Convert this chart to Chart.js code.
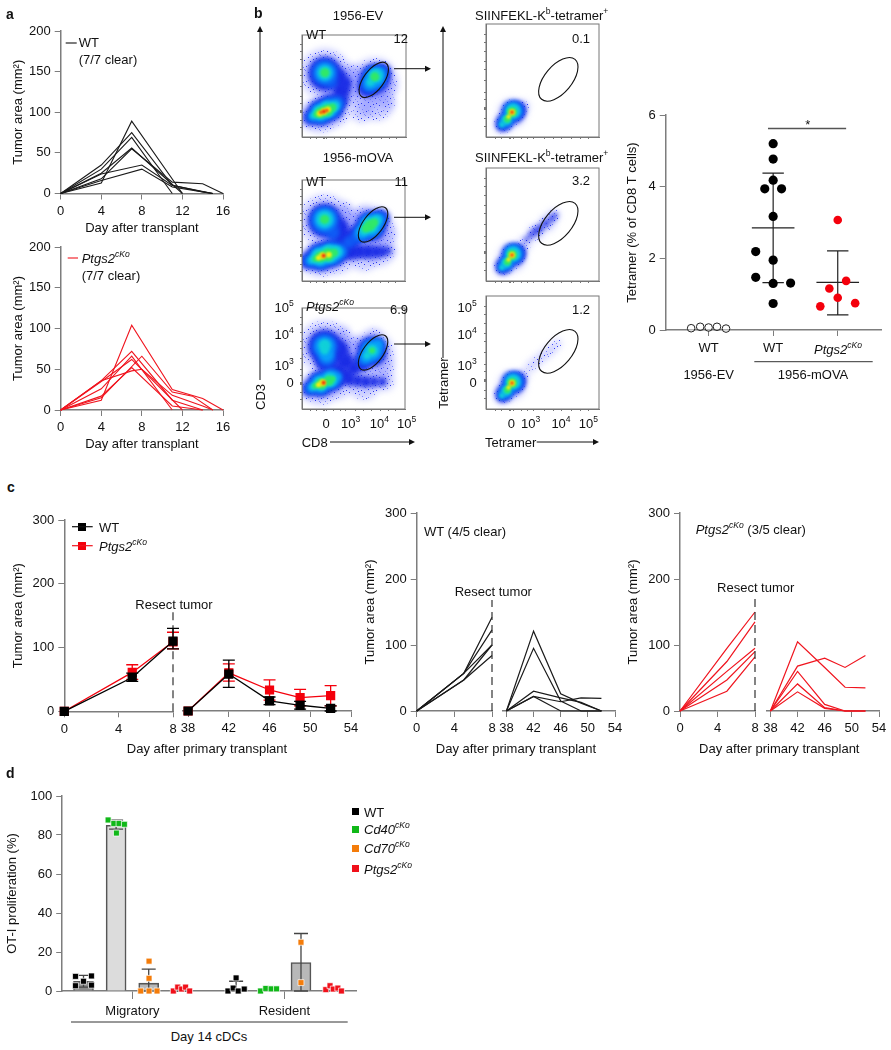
<!DOCTYPE html>
<html>
<head>
<meta charset="utf-8">
<script src="https://cdn.jsdelivr.net/npm/chart.js@4"></script>
<style>
html,body{margin:0;padding:0;background:#fff}
#page{position:relative;width:891px;height:1050px;overflow:hidden;font-family:"Liberation Sans",Arial,sans-serif;color:#111}
canvas{position:absolute}
.t{position:absolute;white-space:nowrap;font-size:13px;line-height:1}
.t sup{font-size:.66em;line-height:0;vertical-align:.6em}
.sq{position:absolute}
svg{position:absolute;left:0;top:0}
</style>
</head>
<body>
<div id="page"></div>
<script>
// panel a, [day, area] per mouse
var aWT = [
  [[0,0],[4,35],[7,75],[11,10],[14,2],[15,0]],
  [[0,0],[4,13],[7,89],[12,0]],
  [[0,0],[4,30],[7,69],[11,0]],
  [[0,0],[4,25],[7,56],[12,0]],
  [[0,0],[4,18],[7,55],[11,14],[14,12],[16,0]],
  [[0,0],[4,24],[8,35],[11,10],[15,0]],
  [[0,0],[4,16],[8,30],[11,8],[14,2],[15,0]]
];
var aKO = [
  [[0,0],[4,12],[7,104],[11,25],[14,14],[16,0]],
  [[0,0],[4,36],[7,72],[11,12],[14,0]],
  [[0,0],[4,26],[7,66],[11,0]],
  [[0,0],[4,15],[8,66],[11,22],[13,17],[15,0]],
  [[0,0],[4,35],[7,62],[12,0]],
  [[0,0],[4,17],[7,52],[11,5],[14,0]],
  [[0,0],[4,36],[7,48],[8,50],[11,18],[14,5],[15,0]]
];

// panel b dot plot
var evDots = [[0.73,0.05],[0.87,0.09],[1,0.07],[1.13,0.09],[1.27,0.04]];
var wtDots = [[2,5.2],[2,4.77],[2,4.18],[1.87,3.94],[2.13,3.94],[2,3.17],[1.73,2.19],[2,1.95],[1.73,1.47],[2,1.3],[2.27,1.31],[2,0.74]];
var koDots = [[3,3.07],[3.13,1.37],[2.87,1.16],[3,0.9],[3.27,0.75],[2.73,0.66]];
var dotMeans = [[2,2.85],[3,1.33]];
var dotErrs = [[2,1.32,4.38],[3,0.42,2.21]];
var dotTicks = [1,2,3];
var dotTickNames = ['WT','WT',''];
var sigBar = [[1.92,5.62],[3.13,5.62]];

// flow plots, blobs are [x%, y%, radius] per density colour, hottest first
var bandColors = ['#f01c10','#f4ee10','#30e868','#10d0d8','#08a0f8','#0f5cf5','#1c2ee6'];
var bandBlur = [1,1,1.2,1.8,2,2.4,2.6];
var flowEV = [
  [[21,25,2],[18,24,1.4],[24,26,1.4]],
  [[21,25,3.5],[17,23,3],[25,27,3]],
  [[14,22,3],[18,24,5.5],[24,26,6],[29,29,4],[22,63,4.5],[70,59,4.5]],
  [[11,21,3],[17,24,7],[24,27,8],[31,30,5],[22,63,7],[71,60,7],[66,54,4]],
  [[10,20,4],[18,24,9],[26,28,9],[33,32,5],[22,63,10],[70,58,10],[65,52,6],[75,63,5]],
  [[9,19,5],[18,24,11],[28,29,11],[35,34,6],[22,63,13],[28,54,6],[70,58,12],[64,51,8],[76,63,7]],
  [[8,19,7],[18,24,13],[28,29,13],[37,36,8],[38,46,9],[22,62,17],[35,58,9],[42,53,6],[70,57,15],[63,49,10],[77,63,9]]
];
var paleEV = [[8,20,12],[18,22,18],[30,28,18],[22,62,25],[38,50,21],[50,52,12],[70,56,22],[62,40,16],[72,32,16],[80,50,12],[57,24,10],[82,34,8],[50,62,10]];
var flowMOVA = [
  [[21,25,2]],
  [[20,25,3.5],[16,23,2.6],[26,26,3]],
  [[13,22,3],[18,24,5.5],[25,26,6.5],[31,28,4],[22,61,4.5],[66,55,5.5],[62,52,4],[70,58,4]],
  [[10,21,3.5],[17,24,8],[26,27,9],[33,29,6],[22,61,8],[66,55,8],[60,50,5],[72,60,5]],
  [[8,20,4.5],[18,24,10],[28,27,10],[36,29,6],[22,61,11],[67,55,11],[58,48,7],[74,61,6]],
  [[7,20,6],[18,24,12],[30,28,12],[38,30,7],[22,60,14],[30,48,7],[67,55,13],[58,47,8],[51,42,6],[45,38,6],[76,62,7]],
  [[6,20,8],[18,24,14],[30,28,14],[40,30,9],[48,29,8],[56,29,7],[64,29,7],[72,29,6],[78,29,5],[83,30,3.5],[22,60,17],[35,52,11],[40,40,10],[46,40,9],[52,45,9],[58,49,9],[67,54,15],[76,62,9]]
];
var paleMOVA = [[6,20,11],[18,22,18],[34,26,19],[60,26,16],[76,28,13],[85,30,7],[22,60,26],[38,50,22],[52,58,12],[68,52,22],[80,45,12],[60,65,10],[42,70,8]];
var flowKO = [
  [[21,26,2]],
  [[20,26,3.5],[16,24,2.6]],
  [[13,23,3],[19,25,5.5],[26,28,5],[30,30,2.5],[68,58,3]],
  [[11,22,3.5],[18,25,7],[27,29,7],[22,63,6],[22,58,4],[68,58,6],[63,53,3.5]],
  [[9,21,4.5],[18,25,9],[28,30,9],[35,32,3.5],[22,62,10],[24,53,7],[68,58,10],[62,51,6],[74,64,4.5]],
  [[8,20,5.5],[18,25,11],[29,30,10],[22,62,13],[24,50,9],[68,58,12],[60,49,7],[75,64,6]],
  [[7,20,7],[18,25,13],[30,30,12],[38,30,6],[46,29,6],[54,28,6],[62,27,6],[70,27,5],[78,27,4.5],[22,62,17],[24,48,12],[35,58,11],[42,47,9],[35,37,8],[68,57,15],[58,46,9],[50,40,7],[44,34,6]]
];
var paleKO = [[7,20,11],[18,22,18],[34,27,17],[60,25,16],[80,28,10],[22,62,26],[38,52,22],[52,60,12],[68,55,22],[78,42,12],[70,72,8],[40,75,7]];
var tetEV = [
  [[23,22,1.6]],
  [[23,22,3.2],[20,18,2.2]],
  [[23,22,5],[19,16,3.5]],
  [[24,23,7],[18,15,4.5],[14,11,2.5]],
  [[24,23,8.5],[18,15,6],[14,11,3.5]],
  [[24,23,10],[18,14,7],[27,24,6]],
  [[24,22,11],[16,13,8],[14,10,5],[28,24,8]]
];
var paleTetEV = [[23,21,14],[15,11,9],[33,27,6]];
var tetMOVA = [
  [[23,23,1.6]],
  [[23,23,3.2],[20,19,2.2]],
  [[23,23,5],[19,17,3.5]],
  [[24,24,7],[18,16,4.5],[14,12,2.5]],
  [[24,24,8.5],[18,16,6],[14,12,3.5]],
  [[24,24,10],[18,15,7],[27,25,6]],
  [[24,23,11],[16,14,8],[14,11,5],[28,25,8],[36,37,2.5],[40,41,3],[44,44,3.5],[48,47,3.5],[53,51,3.5],[58,55,3],[61,58,2.5]]
];
var paleTetMOVA = [[23,21,14],[15,12,9],[34,33,7],[44,43,8],[54,51,8],[60,58,6]];
var tetKO = [
  [[23,23,1.6]],
  [[23,23,3.2],[20,19,2.2]],
  [[23,23,5],[19,17,3.5]],
  [[24,24,7],[18,16,4.5],[14,12,2.5]],
  [[24,24,8.5],[18,16,6],[14,12,3.5]],
  [[24,24,10],[18,15,7],[27,25,6]],
  [[24,23,11],[16,14,8],[14,11,5],[28,25,8]]
];
var paleTetKO = [[23,21,14],[15,12,9],[33,30,6],[40,38,5],[46,43,5],[52,48,5],[58,53,5],[63,58,4]];
var speckle = [[1,2],[5,1],[9,3],[13,0],[3,6],[7,7],[12,5],[1,10],[5,11],[10,9],[14,11],[3,14],[8,13],[12,14],[6,4],[11,12]];
var flowXTicks = [8,14,21,22,24,31,37,42,52,60,67,76,84,91];
var flowYTicks = [9,16,24,25,26,33,39.5,50,60,66.5,76,84,90.8];
var gateLeft = [69,56,20.7,10,-53.5];
var gateRight = [64,51,26,13.6,-50];

// panel c
var daysA = [0,5,8];
var daysB = [38,42,46,49,52];
var ticksA = [0,4,8];
var ticksB = [38,42,46,50,54];
var wtMeanA = [0,53,110];
var wtLoA = [0,47,98];
var wtHiA = [0,60,130];
var wtMeanB = [0,58,16,9,4];
var wtLoB = [0,37,10,3,0];
var wtHiB = [0,80,22,15,8];
var koMeanA = [0,61,109];
var koLoA = [0,50,98];
var koHiA = [0,73,124];
var koMeanB = [0,60,33,21,24];
var koLoB = [0,47,17,8,8];
var koHiB = [0,74,49,34,40];
var cWTA = [[0,57,142],[0,57,123],[0,57,100],[0,47,100],[0,47,84]];
var cWTB = [[0,121,26,12,0],[0,95,15,0,0],[0,30,20,13,0],[0,22,14,20,19],[0,22,0,0,0]];
var cKOA = [[0,95,150],[0,75,135],[0,60,95],[0,47,90],[0,30,82]];
var cKOB = [[0,105,66,36,35],[0,68,80,66,84],[0,60,10,0,0],[0,41,5,0,0],[0,29,4,0,0]];

// panel d
var dX = [1,2,3,4,5.68,6.67,7.67,8.67];
var dMean = [5,85,4,1,1.8,0.9,14.6,1.2];
var dLo = [2,83,0,0,0,0,0,0];
var dHi = [8,87.6,11.2,1,5,0.9,29.5,1.2];
var dFill = ['#8c8c8c','#dcdcdc','#b8b8b8','transparent','transparent','transparent','#b8b8b8','transparent'];
var dEdge = ['#555','#555','#555','transparent','transparent','transparent','#555','transparent'];
var dWT = [[0.755,7.5],[1.245,7.7],[0.755,2.7],[1.245,3],[1,5],[5.43,0],[5.59,1.5],[5.68,6.7],[5.745,0],[5.93,1]];
var dCd40 = [[1.755,87.7],[1.93,85.9],[2.09,85.9],[2.255,85.5],[2.01,81],[6.43,0],[6.59,1.3],[6.755,1.1],[6.92,1.1]];
var dCd70 = [[3.01,15.3],[3.01,6.5],[2.755,0],[3.01,0],[3.255,0],[7.67,25],[7.67,4.3]];
var dPtgs = [[3.755,0],[3.89,2],[4.01,1],[4.13,2],[4.255,0],[8.43,0.7],[8.56,2.7],[8.66,1],[8.8,1.5],[8.91,0]];
var dTicks = [2.5,7.16];
var dTickNames = ['Migratory','Resident'];

Chart.defaults.font.family = '"Liberation Sans", Arial, sans-serif';
Chart.defaults.font.size = 13;
Chart.defaults.color = '#111';
Chart.defaults.animation = false;
Chart.defaults.responsive = false;
Chart.defaults.plugins.legend.display = false;
Chart.defaults.plugins.tooltip.enabled = false;

var page = document.getElementById('page');
var axisGray = '#7d7d7d';
var koRed = '#f0141e';

function xy(a){ return a.map(function(p){ return {x:p[0], y:p[1]}; }); }
function zip(xs, ys){ return xs.map(function(v,i){ return {x:v, y:ys[i]}; }); }

function t(x, y, html, o){
  o = o || {};
  var d = document.createElement('div');
  d.className = 't';
  d.innerHTML = html;
  d.style.left = x + 'px';
  d.style.top = y + 'px';
  var tx = o.a == 'c' ? '-50%' : o.a == 'r' ? '-100%' : '0';
  d.style.transform = 'translate(' + tx + ',-50%)' + (o.rot ? ' rotate(' + o.rot + 'deg)' : '');
  if (o.size) d.style.fontSize = o.size + 'px';
  if (o.bold) d.style.fontWeight = 'bold';
  page.appendChild(d);
}

// error bars and mean lines read from the dataset, drawn through the scales
var errPlugin = {
  id: 'errs',
  afterDatasetDraw: function(chart, args){
    var ds = chart.data.datasets[args.index];
    if (!ds.errs && !ds.means) return;
    var c = chart.ctx, X = chart.scales.x, Y = chart.scales.y;
    c.save();
    c.strokeStyle = ds.errColor || '#000';
    c.lineWidth = ds.errWidth || 1.3;
    c.beginPath();
    (ds.errs || []).forEach(function(e){
      var px = X.getPixelForValue(e[0]), lo = Y.getPixelForValue(e[1]), hi = Y.getPixelForValue(e[2]);
      if (e[1] == e[2]) return;
      c.moveTo(px, lo); c.lineTo(px, hi);
      c.moveTo(px - ds.errCap, lo); c.lineTo(px + ds.errCap, lo);
      c.moveTo(px - ds.errCap, hi); c.lineTo(px + ds.errCap, hi);
    });
    (ds.means || []).forEach(function(m){
      var px = X.getPixelForValue(m[0]), py = Y.getPixelForValue(m[1]);
      c.moveTo(px - ds.meanHalf, py); c.lineTo(px + ds.meanHalf, py);
    });
    c.stroke();
    c.restore();
  }
};

// soft density look, frame and gate for the flow plots
var flowPlugin = {
  id: 'flow',
  beforeDatasetDraw: function(chart, args){
    var ds = chart.data.datasets[args.index];
    if (ds.blur === undefined) return;
    chart.ctx.save();
    chart.ctx.filter = 'blur(' + ds.blur + 'px)';
  },
  afterDatasetDraw: function(chart, args){
    var ds = chart.data.datasets[args.index];
    if (ds.blur === undefined) return;
    chart.ctx.restore();
  },
  afterDraw: function(chart){
    var g = chart.config.options.gate;
    if (!g) return;
    var c = chart.ctx, a = chart.chartArea;
    c.save();
    c.strokeStyle = '#777';
    c.lineWidth = 1;
    c.strokeRect(a.left, a.top, a.right - a.left, a.bottom - a.top);
    c.strokeStyle = '#111';
    c.lineWidth = 1.1;
    c.beginPath();
    c.ellipse(chart.scales.x.getPixelForValue(g[0]), chart.scales.y.getPixelForValue(g[1]), g[2], g[3], g[4] * Math.PI / 180, 0, Math.PI * 2);
    c.stroke();
    c.restore();
  }
};

function axis(o){
  var a = {
    type: 'linear',
    offset: false,
    min: o.min, max: o.max,
    border: {color: o.edge || axisGray, width: o.edgeW || 1.5},
    grid: {offset: false, drawOnChartArea: false, color: o.tickColor || axisGray, tickLength: o.tick || 6, lineWidth: 1},
    ticks: {color: '#111', font: {size: 13}, padding: o.pad === undefined ? 4 : o.pad, maxRotation: 0, autoSkip: false, display: o.labels !== false},
    title: {display: !!o.title, text: o.title, color: '#111', padding: 0, font: {size: 13}}
  };
  if (o.step) a.ticks.stepSize = o.step;
  if (o.values) a.afterBuildTicks = function(s){ s.ticks = o.values.map(function(v){ return {value: v}; }); };
  if (o.names) a.ticks.callback = function(v, i){ return o.names[i]; };
  return a;
}

// box = plot area in page pixels; titleX/titleY = centre of axis titles
function plot(box, type, datasets, xo, yo, extra){
  var left = box.titleX !== undefined ? box.titleX - 8 : box.l - 40;
  var top = box.t - 14;
  var right = box.r + 16;
  var bottom = box.titleY !== undefined ? box.titleY + 8 : box.b + 36;
  var cv = document.createElement('canvas');
  cv.width = right - left; cv.height = bottom - top;
  cv.style.left = left + 'px'; cv.style.top = top + 'px';
  page.appendChild(cv);
  var yw = box.l - left, xh = bottom - box.b;
  var X = axis(xo), Y = axis(yo);
  X.afterFit = function(s){ s.height = xh; };
  Y.afterFit = function(s){ s.width = yw; };
  if (yo.hidden) { Y.display = false; }
  var opts = {
    devicePixelRatio: 1,
    layout: {padding: {top: 14, right: 16, left: 0, bottom: 0}},
    scales: {x: X, y: Y}
  };
  if (extra) Object.keys(extra).forEach(function(k){ opts[k] = extra[k]; });
  return new Chart(cv, {type: type, data: {datasets: datasets}, options: opts, plugins: [errPlugin, flowPlugin]});
}

function thinLine(points, color, w){
  return {type: 'line', data: points, borderColor: color, borderWidth: w || 1.1, pointRadius: 0, tension: 0, clip: false};
}

// panel a
var aXo = {min: 0, max: 16, step: 4, title: 'Day after transplant'};
plot({l: 60.7, t: 31, r: 223.3, b: 194, titleX: 19, titleY: 228.5}, 'line',
  aWT.map(function(s){ return thinLine(xy(s), '#1a1a1a'); }), aXo,
  {min: 0, max: 200, step: 50, title: 'Tumor area (mm²)'});
plot({l: 60.7, t: 246.7, r: 223.3, b: 410, titleX: 19, titleY: 444}, 'line',
  aKO.map(function(s){ return thinLine(xy(s), koRed); }), aXo,
  {min: 0, max: 200, step: 50, title: 'Tumor area (mm²)'});

// speckled fill for the sparse outer events
var tile = document.createElement('canvas');
tile.width = 15; tile.height = 15;
var tc = tile.getContext('2d');
speckle.forEach(function(p, i){
  tc.fillStyle = i % 2 == 0 ? '#2a38f0' : '#7a84ff';
  tc.fillRect(p[0], p[1], 1, 1);
});
var specklePattern = tc.createPattern(tile, 'repeat');

// panel b flow
function bubbles(list){ return list.map(function(p){ return {x: p[0], y: p[1], r: p[2]}; }); }
function flowSets(bands, pale){
  var sets = bands.map(function(b, i){
    return {data: bubbles(b), backgroundColor: bandColors[i], borderWidth: 0, blur: bandBlur[i]};
  });
  sets.push({data: bubbles(pale), backgroundColor: specklePattern, borderWidth: 0, blur: 0.35});
  sets.push({data: bubbles(pale), backgroundColor: 'rgba(130,138,255,.42)', borderWidth: 0, blur: 3.5});
  return sets;
}
function flow(l, t0, bands, pale, gate){
  var box = {l: l, t: t0, r: l + 113.5, b: t0 + 113};
  plot(box, 'bubble', flowSets(bands, pale),
    {min: 0, max: 100, values: flowXTicks, labels: false, tick: 2, edge: '#777', edgeW: 1, tickColor: '#777'},
    {min: 0, max: 100, values: flowYTicks, labels: false, tick: 2, edge: '#777', edgeW: 1, tickColor: '#777'},
    {gate: gate});
}
flow(301.7, 24.3, flowEV, paleEV, gateLeft);
flow(301.7, 168.3, flowMOVA, paleMOVA, gateLeft);
flow(301.7, 296.3, flowKO, paleKO, gateLeft);
flow(485.7, 24.3, tetEV, paleTetEV, gateRight);
flow(485.7, 168.3, tetMOVA, paleTetMOVA, gateRight);
flow(485.7, 296.3, tetKO, paleTetKO, gateRight);

// panel b dots
plot({l: 665.7, t: 115, r: 881.7, b: 330.7, titleX: 633}, 'scatter', [
  {data: xy(evDots), backgroundColor: 'rgba(255,255,255,.45)', borderColor: '#222', borderWidth: 1, pointRadius: 3.8, clip: false},
  {data: xy(wtDots), backgroundColor: '#000', pointRadius: 4.6, pointBorderWidth: 0, clip: false},
  {data: xy(koDots), backgroundColor: '#f4000c', pointRadius: 4.3, pointBorderWidth: 0, clip: false},
  {type: 'line', data: xy(sigBar), borderColor: '#555', borderWidth: 1.5, pointRadius: 0, clip: false},
  {data: [], errs: dotErrs, means: dotMeans, errCap: 10.7, meanHalf: 21.3, errColor: '#222', errWidth: 1.2}
], {min: 0.336, max: 3.67, values: dotTicks, names: dotTickNames, pad: 5},
   {min: 0, max: 6, step: 2, title: 'Tetramer (% of CD8 T cells)'});

// panel c
function cOpts(values, min, max){ return {min: min, max: max, values: values, pad: 4}; }
var cY = {min: 0, max: 300, step: 100, title: 'Tumor area (mm²)'};
function avgSet(days, mean, lo, hi, color){
  return {
    type: 'line', data: zip(days, mean), borderColor: color, backgroundColor: color, borderWidth: 1.3,
    pointStyle: 'rect', pointRadius: 5.6, pointBorderColor: color, tension: 0, clip: false,
    errs: days.map(function(d, i){ return [d, lo[i], hi[i]]; }), errCap: 6, errColor: color, errWidth: 1.3
  };
}
function dash(top){ return {type: 'line', data: [{x: 8, y: 0}, {x: 8, y: top}], borderColor: '#333', borderWidth: 1.2, borderDash: [8, 5], pointRadius: 0, clip: false}; }

plot({l: 64.3, t: 520, r: 173.7, b: 711.3, titleX: 19, titleY: 760}, 'line', [
  avgSet(daysA, wtMeanA, wtLoA, wtHiA, '#000'),
  dash(156),
  avgSet(daysA, koMeanA, koLoA, koHiA, '#f4000c')
], cOpts(ticksA, 0, 8), cY);
plot({l: 182.7, t: 520, r: 350.7, b: 711.3}, 'line', [
  avgSet(daysB, wtMeanB, wtLoB, wtHiB, '#000'),
  avgSet(daysB, koMeanB, koLoB, koHiB, '#f4000c')
], cOpts(ticksB, 37.5, 54), {min: 0, max: 300, hidden: true});

function mouseSets(rows, days, color){
  return rows.map(function(r){ return thinLine(zip(days, r), color, 1.2); });
}
plot({l: 416.7, t: 512.7, r: 492.7, b: 711, titleX: 371, titleY: 760}, 'line',
  [dash(168)].concat(mouseSets(cWTA, daysA, '#1a1a1a')), cOpts(ticksA, 0, 8), cY);
plot({l: 503.3, t: 512.7, r: 616, b: 711}, 'line',
  mouseSets(cWTB, daysB, '#1a1a1a'), cOpts(ticksB, 37.5, 54), {min: 0, max: 300, hidden: true});
plot({l: 680, t: 512.7, r: 755.7, b: 711, titleX: 634, titleY: 760}, 'line',
  [dash(170)].concat(mouseSets(cKOA, daysA, koRed)), cOpts(ticksA, 0, 8), cY);
plot({l: 766.6, t: 512.7, r: 879.3, b: 711}, 'line',
  mouseSets(cKOB, daysB, koRed), cOpts(ticksB, 37.5, 54), {min: 0, max: 300, hidden: true});

// panel d
function sqSet(points, color){
  return {type: 'scatter', data: xy(points), backgroundColor: color, borderColor: '#fff', borderWidth: 0.7, pointStyle: 'rect', pointRadius: 4.2, clip: false};
}
plot({l: 61.7, t: 796.3, r: 356, b: 992, titleX: 12.5}, 'bar', [
  sqSet(dWT, '#000'),
  sqSet(dCd40, '#10b818'),
  sqSet(dCd70, '#f47c0a'),
  sqSet(dPtgs, '#f0101a'),
  {type: 'bar', data: zip(dX, dMean), backgroundColor: dFill, borderColor: dEdge, borderWidth: 1.6, barThickness: 20,
   errs: dX.map(function(v, i){ return [v, dLo[i], dHi[i]]; }), errCap: 7, errColor: '#444', errWidth: 1.3}
], {min: 0.347, max: 9.357, values: dTicks, names: dTickNames, tick: 8, pad: 5},
   {min: 0, max: 100, step: 20, title: 'OT-I proliferation (%)'});

// text
var KO = '<i>Ptgs2<sup>cKo</sup></i>';
var P10 = function(n){ return '10<sup>' + n + '</sup>'; };
t(6, 14, 'a', {bold: 1, size: 14});
t(254, 13, 'b', {bold: 1, size: 14});
t(7, 487, 'c', {bold: 1, size: 14});
t(6, 773, 'd', {bold: 1, size: 14});
t(78.7, 42, 'WT');
t(78.7, 59, '(7/7 clear)');
t(81.7, 258, KO);
t(81.7, 275, '(7/7 clear)');

t(358, 15, '1956-EV', {a: 'c'});
t(358, 157, '1956-mOVA', {a: 'c'});
var tetHead = 'SIINFEKL-K<sup>b</sup>-tetramer<sup>+</sup>';
t(541.7, 15, tetHead, {a: 'c'});
t(541.7, 157, tetHead, {a: 'c'});
t(306, 34, 'WT');
t(306, 181, 'WT');
t(306, 306, KO);
t(408, 38, '12', {a: 'r'});
t(408, 181, '11', {a: 'r'});
t(408, 309, '6.9', {a: 'r'});
t(590, 38, '0.1', {a: 'r'});
t(590, 180, '3.2', {a: 'r'});
t(590, 309, '1.2', {a: 'r'});
[[293.7],[476.7]].forEach(function(c){
  t(c[0], 306.7, P10(5), {a: 'r'});
  t(c[0], 334, P10(4), {a: 'r'});
  t(c[0], 365, P10(3), {a: 'r'});
  t(c[0], 381.7, '0', {a: 'r'});
});
t(326, 423, '0', {a: 'c'});
t(350.7, 423, P10(3), {a: 'c'});
t(379.3, 423, P10(4), {a: 'c'});
t(406.7, 423, P10(5), {a: 'c'});
t(511.3, 423, '0', {a: 'c'});
t(530.7, 423, P10(3), {a: 'c'});
t(561, 423, P10(4), {a: 'c'});
t(588.3, 423, P10(5), {a: 'c'});
t(301.7, 442, 'CD8');
t(485, 442, 'Tetramer');
t(260, 396.7, 'CD3', {a: 'c', rot: -90});
t(443, 383, 'Tetramer', {a: 'c', rot: -90});

t(807.7, 124, '*', {a: 'c'});
t(838, 349, KO, {a: 'c'});
t(708.7, 374, '1956-EV', {a: 'c'});
t(813, 374, '1956-mOVA', {a: 'c'});

t(99, 526.7, 'WT');
t(99, 545.7, KO);
t(174, 604.3, 'Resect tumor', {a: 'c'});
t(207, 747.7, 'Day after primary transplant', {a: 'c'});
t(424, 530.7, 'WT (4/5 clear)');
t(493.3, 590.7, 'Resect tumor', {a: 'c'});
t(516, 747.7, 'Day after primary transplant', {a: 'c'});
t(695.7, 529, KO + ' (3/5 clear)');
t(755.7, 586.7, 'Resect tumor', {a: 'c'});
t(779.3, 747.7, 'Day after primary transplant', {a: 'c'});

t(209, 1036, 'Day 14 cDCs', {a: 'c'});
t(364, 811.5, 'WT');
t(364, 829, '<i>Cd40<sup>cKo</sup></i>');
t(364, 848, '<i>Cd70<sup>cKo</sup></i>');
t(364, 868.5, KO);

function sq(cx, cy, s, color){
  var d = document.createElement('div');
  d.className = 'sq';
  d.style.cssText = 'left:' + (cx - s / 2) + 'px;top:' + (cy - s / 2) + 'px;width:' + s + 'px;height:' + s + 'px;background:' + color;
  page.appendChild(d);
}
sq(355.7, 811.7, 7, '#000');
sq(355.7, 829, 7, '#10b818');
sq(355.7, 848, 7, '#f47c0a');
sq(355.7, 868.7, 7, '#f0101a');
sq(82.3, 526.7, 8, '#000');
sq(82.3, 545.7, 8, '#f4000c');

// arrows and brackets
var NS = 'http://www.w3.org/2000/svg';
var svg = document.createElementNS(NS, 'svg');
svg.setAttribute('width', 891);
svg.setAttribute('height', 1050);
page.appendChild(svg);
function seg(x1, y1, x2, y2, color, w){
  var l = document.createElementNS(NS, 'line');
  l.setAttribute('x1', x1); l.setAttribute('y1', y1); l.setAttribute('x2', x2); l.setAttribute('y2', y2);
  l.setAttribute('stroke', color || '#111'); l.setAttribute('stroke-width', w || 1);
  svg.appendChild(l);
}
function head(points){
  var p = document.createElementNS(NS, 'polygon');
  p.setAttribute('points', points);
  p.setAttribute('fill', '#111');
  svg.appendChild(p);
}
function arrowR(x1, x2, y){ seg(x1, y, x2 - 4, y); head(x2 + ',' + y + ' ' + (x2 - 6) + ',' + (y - 3) + ' ' + (x2 - 6) + ',' + (y + 3)); }
function arrowU(x, y1, y2){ seg(x, y1, x, y2 + 4); head(x + ',' + y2 + ' ' + (x - 3) + ',' + (y2 + 6) + ' ' + (x + 3) + ',' + (y2 + 6)); }
arrowR(394, 431, 68.7);
arrowR(394, 431, 217.3);
arrowR(394, 431, 344);
arrowR(330, 415, 442);
arrowR(536.7, 599, 442);
arrowU(260, 380, 26);
arrowU(443, 358, 26);
seg(65.7, 43, 76.7, 43, '#111', 1.1);
seg(67.7, 258, 78, 258, koRed, 1.1);
seg(72, 526.7, 92.7, 526.7, '#111', 1.2);
seg(72, 545.7, 92.7, 545.7, koRed, 1.2);
seg(754.3, 361.7, 872.7, 361.7, '#333', 1);
seg(71, 1022, 347.7, 1022, '#333', 1);
</script>
</body>
</html>
